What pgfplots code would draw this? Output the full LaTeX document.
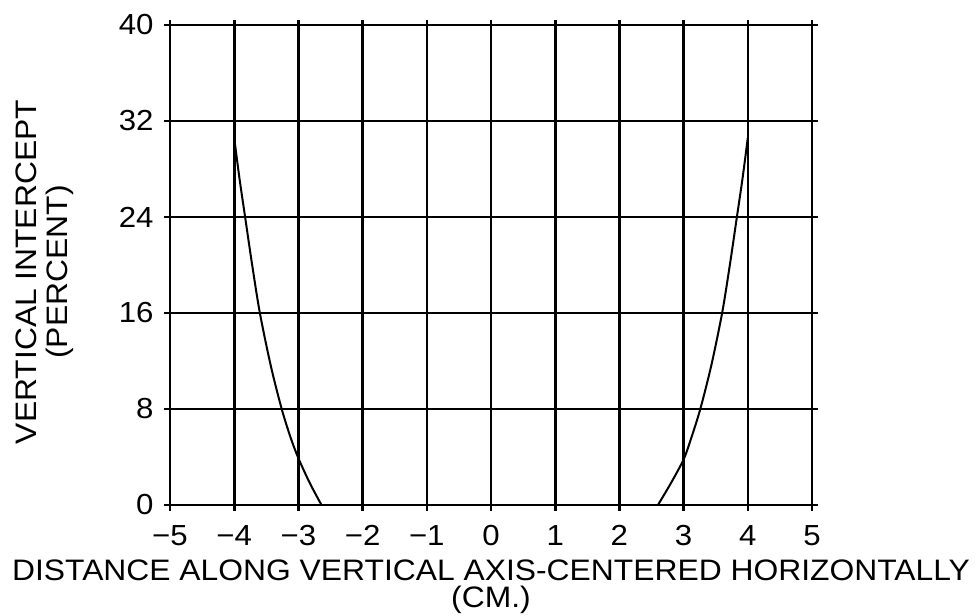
\documentclass[border=0pt]{standalone}
\usepackage{fontspec}
\setmainfont{Liberation Sans}
\newfontfamily\labelfont[FakeStretch=1.075]{Liberation Sans}
\usepackage{pgfplots}
\pgfplotsset{compat=1.18}

\begin{document}
\begin{tikzpicture}
  % page frame, same proportions as the reference
  \path[use as bounding box] (-85pt,-55pt) rectangle (403.5pt,252.5pt);
  \begin{axis}[
      anchor=south west, at={(0,0)},
      scale only axis,
      width=321pt, height=240pt,
      xmin=-5, xmax=5, ymin=0, ymax=40,
      xtick={-5,-4,...,5},
      ytick={0,8,16,24,32,40},
      xticklabels={−5,−4,−3,−2,−1,0,1,2,3,4,5},
      grid=major,
      grid style={black, line width=1.3pt},
      axis line style={line width=1.3pt},
      tick align=center,
      tick pos=both,
      major tick length=5.5pt,
      every tick/.style={black, line width=1.3pt},
      ticklabel style={font=\labelfont\fontsize{14.5}{14}\selectfont},
      /pgf/number format/assume math mode=true,
      xticklabel style={yshift=-4pt},
      yticklabel style={xshift=-2pt},
      xlabel={DISTANCE ALONG VERTICAL AXIS-CENTERED HORIZONTALLY\\(CM.)},
      ylabel={VERTICAL INTERCEPT\\(PERCENT)},
      xlabel style={font=\labelfont\fontsize{14.8}{13.6}\selectfont, align=center,
        at={(axis description cs:0.5,0)}, anchor=north, yshift=-24pt},
      ylabel style={font=\labelfont\fontsize{14.8}{15.5}\selectfont, align=center,
        at={(axis description cs:0,0.5)}, anchor=south, yshift=44.5pt, xshift=-3.5pt},
    ]
    \addplot[black, line width=1pt, smooth] coordinates {
      (-4.00,30.6) (-3.92,27.3) (-3.83,24.0) (-3.72,20.0) (-3.60,16.0)
      (-3.43,11.6) (-3.26,8.0) (-3.12,5.6) (-3.00,3.9) (-2.82,1.8) (-2.64,0)
    };
    \addplot[black, line width=1pt, smooth] coordinates {
      (2.60,0) (2.80,1.8) (3.00,3.8) (3.12,5.6) (3.26,8.0) (3.43,11.6)
      (3.60,16.0) (3.72,20.0) (3.83,24.0) (3.92,27.3) (4.00,30.6)
    };
  \end{axis}
\end{tikzpicture}
\end{document}
